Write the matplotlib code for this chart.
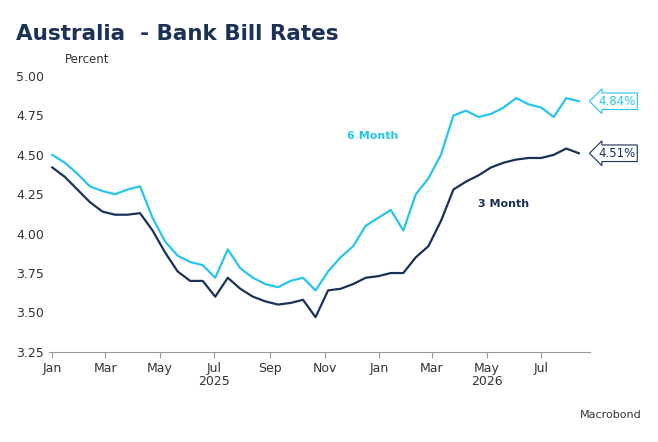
import numpy as np
import pandas as pd
import matplotlib
matplotlib.use("Agg")
import matplotlib.pyplot as plt
import matplotlib.dates as mdates

NAVY = "#1b3158"
CYAN = "#27c4ec"

dates = pd.date_range("2025-01-01", periods=43, freq="14D")
six_month = [4.50, 4.45, 4.38, 4.30, 4.27, 4.25, 4.28, 4.30, 4.10, 3.95, 3.86, 3.82, 3.80,
             3.72, 3.90, 3.78, 3.72, 3.68, 3.66, 3.70, 3.72, 3.64, 3.76, 3.85, 3.92, 4.05,
             4.10, 4.15, 4.02, 4.25, 4.35, 4.50, 4.75, 4.78, 4.74, 4.76, 4.80, 4.86, 4.82,
             4.80, 4.74, 4.86, 4.84]
three_month = [4.42, 4.36, 4.28, 4.20, 4.14, 4.12, 4.12, 4.13, 4.02, 3.88, 3.76, 3.70, 3.70,
               3.60, 3.72, 3.65, 3.60, 3.57, 3.55, 3.56, 3.58, 3.47, 3.64, 3.65, 3.68, 3.72,
               3.73, 3.75, 3.75, 3.85, 3.92, 4.08, 4.28, 4.33, 4.37, 4.42, 4.45, 4.47, 4.48,
               4.48, 4.50, 4.54, 4.51]

fig = plt.figure(figsize=(6.58, 4.42), dpi=100)
ax = fig.add_axes([0.074, 0.204, 0.822, 0.624])
ax.plot(dates, six_month, color=CYAN, lw=1.6)
ax.plot(dates, three_month, color=NAVY, lw=1.6)

ax.set_ylim(3.25, 5.0)
ax.set_yticks(np.arange(3.25, 5.01, 0.25))
ax.yaxis.set_major_formatter(matplotlib.ticker.FormatStrFormatter("%.2f"))
ax.set_xlim(pd.Timestamp("2024-12-28"), pd.Timestamp("2026-08-24"))
ax.xaxis.set_major_locator(mdates.MonthLocator(bymonth=[1, 3, 5, 7, 9, 11]))
ax.xaxis.set_major_formatter(mdates.DateFormatter("%b"))
for s in ["top", "right", "left"]:
    ax.spines[s].set_visible(False)
ax.spines["bottom"].set_color("#999999")
ax.tick_params(axis="y", length=0, labelsize=9, colors="#333333")
ax.tick_params(axis="x", labelsize=9, colors="#333333", color="#999999", length=4)

ax.text(pd.Timestamp("2025-07-01"), -0.085, "2025", transform=ax.get_xaxis_transform(),
        ha="center", va="top", fontsize=9, color="#333333")
ax.text(pd.Timestamp("2026-05-01"), -0.085, "2026", transform=ax.get_xaxis_transform(),
        ha="center", va="top", fontsize=9, color="#333333")

ax.text(pd.Timestamp("2025-12-25"), 4.60, "6 Month", color=CYAN, fontsize=8,
        fontweight="bold", ha="center")
ax.text(pd.Timestamp("2026-05-20"), 4.17, "3 Month", color=NAVY, fontsize=8,
        fontweight="bold", ha="center")

ax.annotate(f"{six_month[-1]:.2f}%", (dates[-1], six_month[-1]), xytext=(14, 0),
            textcoords="offset points", va="center", fontsize=8.5, color=CYAN,
            annotation_clip=False,
            bbox=dict(boxstyle="larrow,pad=0.15", fc="white", ec=CYAN, lw=0.8))
ax.annotate(f"{three_month[-1]:.2f}%", (dates[-1], three_month[-1]), xytext=(14, 0),
            textcoords="offset points", va="center", fontsize=8.5, color=NAVY,
            annotation_clip=False,
            bbox=dict(boxstyle="larrow,pad=0.15", fc="white", ec=NAVY, lw=0.8))

fig.text(0.024, 0.91, "Australia  - Bank Bill Rates", fontsize=15.5, fontweight="bold",
         color=NAVY)
fig.text(0.099, 0.857, "Percent", fontsize=8.5, color="#333333")
fig.text(0.975, 0.055, "Macrobond", fontsize=8, color="#333333", ha="right")

fig.savefig("out.png", dpi=100)
